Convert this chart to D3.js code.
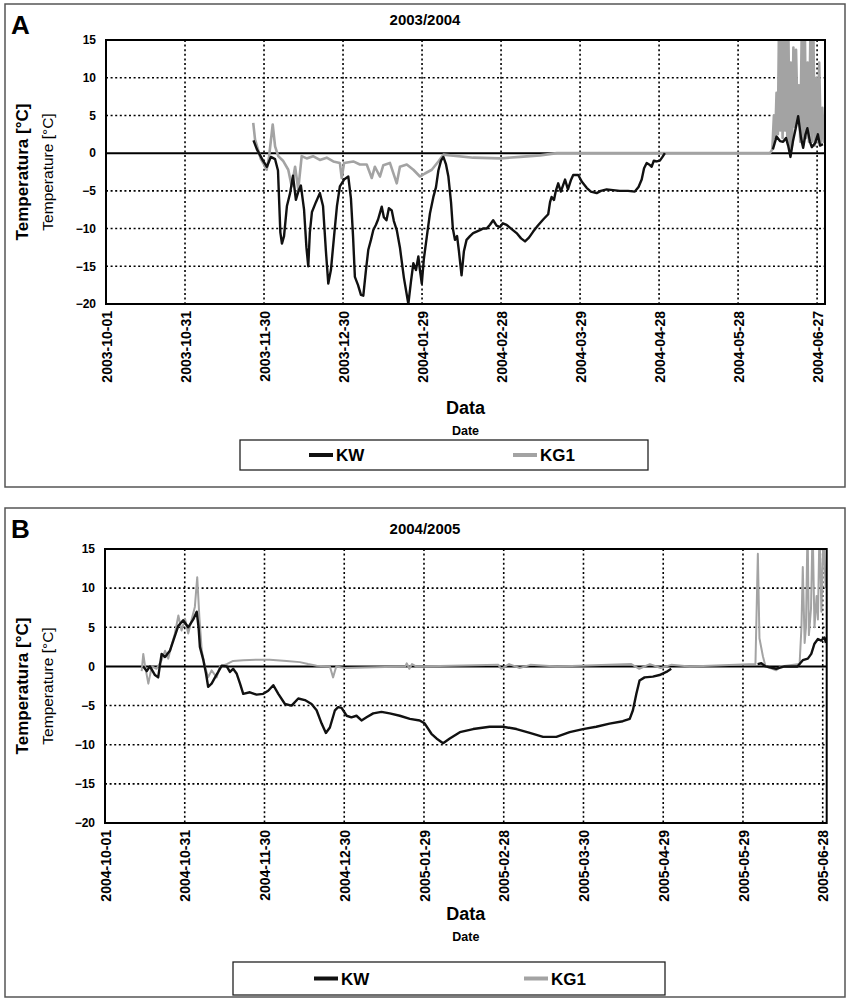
<!DOCTYPE html>
<html><head><meta charset="utf-8">
<script src="https://cdn.jsdelivr.net/npm/d3@7"></script>
<style>body{margin:0;background:#fff}svg{display:block}text{font-family:"Liberation Sans",Arial,sans-serif}</style>
</head><body><svg id="c" width="849" height="999"></svg>
<script>
// ---------- data ----------
const seriesNames = ["KW", "KG1"];
const yTicks = [15, 10, 5, 0, -5, -10, -15, -20];

const titleA = "2003/2004", startA = "2003-10-01", endDayA = 273;
const ticksA = ["2003-10-01","2003-10-31","2003-11-30","2003-12-30","2004-01-29","2004-02-28","2004-03-29","2004-04-28","2004-05-28","2004-06-27"];
// days since season start / temperature (null = gap)
const kwA_day = [56.0,57.3,59.6,61.1,62.6,64.2,65.3,66.2,66.8,67.6,68.7,69.9,71.0,72.1,73.1,74.0,75.2,76.1,76.8,77.4,78.2,79.7,81.2,82.4,83.5,84.4,85.4,86.6,87.7,88.8,90.4,92.0,93.0,93.8,94.5,95.7,96.8,97.7,98.7,99.6,100.6,101.5,102.5,103.3,104.7,105.5,106.5,107.4,108.5,109.3,110.4,111.6,113.1,114.8,115.8,116.7,117.7,118.6,119.2,119.9,120.7,121.8,123.0,124.3,125.3,126.2,127.2,128.1,129.1,130.0,131.0,131.7,132.5,133.3,134.0,135.0,135.9,136.9,138.2,139.4,140.7,142.0,143.1,144.5,145.8,147.0,148.3,149.6,150.7,152.1,153.8,155.9,157.6,159.1,160.6,162.2,164.0,166.0,167.9,168.6,169.2,170.1,170.8,171.7,172.7,174.3,175.4,176.5,177.4,179.3,180.7,182.5,184.1,186.3,187.9,190.1,192.5,195.1,198.2,200.8,202.2,203.4,204.3,205.3,206.2,207.2,208.0,209.1,210.3,211.3,212.2,230,253.2,254.6,255.9,257.1,258.2,259.0,259.9,260.8,262.0,262.8,263.9,264.7,265.6,266.3,267.3,268.0,269.2,270.3,271.1,272.2];
const kwA_val = [1.7,0.5,-1.0,-1.8,-0.5,-0.8,-2.3,-10.5,-12.0,-11.0,-7.0,-5.3,-3.0,-6.2,-5.0,-4.3,-7.5,-12.5,-15.0,-10.5,-7.8,-6.5,-5.3,-7.0,-13.0,-17.3,-15.5,-11.0,-7.0,-4.4,-3.5,-3.1,-6.0,-11.0,-16.4,-17.5,-18.8,-18.9,-15.5,-12.8,-11.5,-10.2,-9.5,-8.8,-7.1,-8.5,-8.9,-7.3,-7.6,-9.0,-10.2,-12.5,-16.5,-20.0,-17.0,-14.6,-15.5,-13.7,-15.5,-17.3,-14.0,-11.1,-8.0,-5.8,-4.5,-2.3,-1.0,-0.5,-1.5,-3.1,-6.5,-10.0,-11.5,-11.0,-13.0,-16.2,-13.0,-11.5,-11.0,-10.6,-10.4,-10.2,-10.0,-10.0,-9.5,-8.9,-9.6,-9.8,-9.3,-9.5,-10.0,-10.6,-11.3,-11.7,-11.2,-10.4,-9.6,-8.8,-8.1,-6.5,-5.8,-6.2,-5.0,-4.0,-5.1,-3.5,-4.8,-3.6,-2.9,-2.9,-3.8,-4.6,-5.1,-5.3,-5.0,-4.8,-4.9,-5.0,-5.0,-5.1,-4.5,-3.5,-2.0,-1.3,-1.5,-1.8,-1.0,-1.1,-1.0,-0.5,0,null,0.5,2.2,1.6,1.5,2.0,1.0,-0.5,1.5,3.5,4.9,2.0,0.7,2.5,3.3,1.5,0.8,1.3,2.5,1.0,1.2];
const kgA_day = [55.9,56.6,57.7,58.8,59.7,61.0,61.9,63.3,64.2,65.4,67.2,69.2,70.5,71.8,73.0,74.3,76.2,78.6,81.2,83.8,86.3,88.8,89.5,90.4,93.9,96.4,99.0,100.9,102.1,104.0,105.3,107.8,110.4,111.6,114.2,116.7,119.2,121.1,123.7,126.2,128.1,139.4,149.6,157.2,164.8,171.2,252.1,253.0,253.6,254.1,254.6,255.1,255.5,256.0,256.4,256.9,257.3,257.8,258.2,258.7,259.1,259.6,260.0,260.5,261.0,261.5,262.0,262.6,263.1,263.6,264.2,264.7,265.3,265.8,266.4,266.9,267.5,268.0,268.6,269.1,269.7,270.3,270.8,271.4,272.0,272.5,273.0];
const kgA_val = [4.0,1.8,0.5,-0.8,-1.3,-2.2,-0.5,3.8,0.9,-0.4,-1.0,-2.2,-4.4,-1.8,-4.8,-0.4,-0.7,-0.4,-0.9,-0.6,-1.1,-1.3,-3.3,-1.3,-1.1,-1.5,-1.5,-3.3,-1.8,-3.1,-1.6,-1.3,-4.0,-1.8,-1.5,-2.2,-3.1,-2.7,-2.2,-1.1,-0.2,-0.6,-0.7,-0.5,-0.3,0,0,0.5,5.0,2.0,8.0,2.5,16,3.0,18,2.0,17,3.0,18,1.5,16,0.5,12,1.0,14,3.5,13.7,4.3,9,1.5,17,1.0,18,2.0,12,1.5,17,1.5,16,1.0,10,1.5,12,1.5,6,1.5,3];

const titleB = "2004/2005", startB = "2004-10-01", endDayB = 271.5;
const ticksB = ["2004-10-01","2004-10-31","2004-11-30","2004-12-30","2005-01-29","2005-02-28","2005-03-30","2005-04-29","2005-05-29","2005-06-28"];
const kwB_day = [14.4,15.7,16.9,18.8,20.0,21.3,22.6,24.4,25.7,27.6,29.4,31.3,33.2,34.5,35.2,35.7,37.0,38.0,38.8,40.1,41.4,42.6,43.9,45.8,47.0,48.2,49.5,50.8,52.0,54.5,57.0,59.5,61.4,63.3,65.2,67.7,70.2,72.7,75.2,77.7,79.6,81.5,83.1,84.6,86.5,87.7,89.0,90.9,92.7,94.6,96.5,98.4,100.9,104.0,107.1,110.9,114.7,118.4,120.3,122.8,124.7,127.2,129.7,133.5,138.5,144.7,149.7,154.8,159.8,164.8,169.8,174.8,179.8,184.8,189.8,194.8,197.4,198.6,199.9,201.1,203.0,206.1,208.6,211.2,213.0,230,245.5,246.9,248.5,252.5,255.6,260.5,262.5,264.4,265.7,266.9,268.2,269.4,270.7,271.2];
const kwB_val = [0,-0.6,0,-1.1,-1.4,1.6,1.2,2.0,3.3,5.2,5.9,5.0,6.0,7.0,5.0,2.5,0.8,-0.9,-2.6,-2.2,-1.4,-0.7,0.1,0,-0.7,-0.3,-0.9,-2.2,-3.5,-3.3,-3.6,-3.5,-3.1,-2.4,-3.5,-4.8,-5.0,-4.1,-4.3,-4.8,-5.6,-7.3,-8.5,-7.8,-5.6,-5.2,-5.3,-6.3,-6.5,-6.3,-6.9,-6.5,-6.0,-5.8,-6.0,-6.3,-6.7,-6.9,-7.3,-8.6,-9.2,-9.8,-9.2,-8.4,-8.0,-7.7,-7.7,-8.0,-8.5,-9.0,-9.0,-8.4,-8.0,-7.7,-7.3,-7.0,-6.7,-5.6,-3.5,-1.8,-1.4,-1.3,-1.1,-0.7,-0.3,null,0.3,0.4,0,-0.3,0,0,0.8,1.0,1.6,2.9,3.5,3.3,3.7,3.0];
const kgB_day = [13.8,14.4,15.0,16.3,17.6,19.4,21.3,22.6,23.8,25.1,26.3,27.6,28.8,30.1,31.3,32.6,33.8,34.7,35.5,36.4,37.6,38.8,40.1,42.0,43.2,45.8,48.2,52.0,57.0,62.0,68.3,73.3,76.4,79.6,84.6,85.8,87.0,90.2,113.0,113.5,114.5,115.5,117.0,148.0,149.0,152.0,156.0,160.0,170.0,198.0,201.0,205.0,209.0,213.0,220.0,244.7,245.6,246.2,247.5,248.5,252.5,254.1,261.3,262.0,262.5,263.2,263.7,264.3,264.8,265.6,266.2,266.9,267.7,268.2,268.8,269.5,270.3,271.1];
const kgB_val = [-0.6,1.6,0.2,-2.2,0,-0.3,0.8,2.0,1.0,2.8,4.2,6.5,4.6,6.1,4.2,6.0,7.6,11.4,6.3,2.0,0,-1.4,-0.5,-1.4,0,0.3,0.7,0.8,0.85,0.85,0.7,0.55,0.3,0.1,0,-1.4,0,-0.2,0,0.4,-0.3,0.3,0,0.2,-0.3,0.3,-0.2,0.2,0,0.3,-0.3,0.3,-0.2,0.2,0,0.3,14.4,3.6,1.3,0,-0.5,0,0.3,5,12.7,3,5,18,4,7.4,18,5,9,6,18,7,17,10];

// ---------- drawing ----------
const svg = d3.select("#c");
const parse = d3.utcParse("%Y-%m-%d");
const fmt = d3.utcFormat("%Y-%m-%d");
const DAY = 864e5;

function panel(o) {
  const g = svg.append("g");
  const t0 = parse(o.start).getTime();
  const toDate = d => new Date(t0 + d * DAY);
  const x = d3.scaleUtc().domain([toDate(0), toDate(o.endDay)]).range([o.L, o.R]);
  const y = d3.scaleLinear().domain([-20, 15]).range([o.B, o.T]);

  g.append("rect").attr("x", o.box[0]).attr("y", o.box[1]).attr("width", o.box[2]).attr("height", o.box[3])
    .attr("fill", "none").attr("stroke", "#555").attr("stroke-width", 1.5);
  g.append("text").attr("x", o.box[0] + 6).attr("y", o.box[1] + 30).attr("font-size", 26).attr("font-weight", "bold").text(o.letter);
  g.append("text").attr("x", 425).attr("y", o.T - 15).attr("text-anchor", "middle")
    .attr("font-size", 15).attr("font-weight", "bold").text(o.title);

  // grid
  g.selectAll(".hg").data(yTicks.filter(v => v !== 0 && v !== 15 && v !== -20)).join("line")
    .attr("x1", o.L).attr("x2", o.R).attr("y1", d => y(d)).attr("y2", d => y(d))
    .attr("stroke", "#000").attr("stroke-width", 1.6).attr("stroke-dasharray", "2,2.6");
  const tickDates = o.ticks.map(parse);
  g.selectAll(".vg").data(tickDates.slice(1)).join("line")
    .attr("x1", d => x(d)).attr("x2", d => x(d)).attr("y1", o.T).attr("y2", o.B)
    .attr("stroke", "#000").attr("stroke-width", 1.6).attr("stroke-dasharray", "2,2.6");
  g.append("line").attr("x1", o.L).attr("x2", o.R).attr("y1", y(0)).attr("y2", y(0))
    .attr("stroke", "#000").attr("stroke-width", 2);

  const cid = "clip" + o.letter;
  svg.append("clipPath").attr("id", cid).append("rect").attr("x", o.L).attr("y", o.T).attr("width", o.R - o.L).attr("height", o.B - o.T);
  const line = d3.line().defined(d => d[1] !== null).x(d => x(toDate(d[0]))).y(d => y(d[1]));
  const kg = o.kgDay.map((d, i) => [d, o.kgVal[i]]);
  const kw = o.kwDay.map((d, i) => [d, o.kwVal[i]]);
  g.append("path").attr("clip-path", `url(#${cid})`).attr("d", line(kg)).attr("fill", "none")
    .attr("stroke", "#a3a3a3").attr("stroke-width", o.kgW).attr("stroke-linejoin", "round");
  g.append("path").attr("clip-path", `url(#${cid})`).attr("d", line(kw)).attr("fill", "none")
    .attr("stroke", "#111").attr("stroke-width", 2.4).attr("stroke-linejoin", "round");

  g.append("rect").attr("x", o.L).attr("y", o.T).attr("width", o.R - o.L).attr("height", o.B - o.T)
    .attr("fill", "none").attr("stroke", "#000").attr("stroke-width", 2);

  // axes
  const ya = g.append("g").attr("transform", `translate(${o.L},0)`)
    .call(d3.axisLeft(y).tickValues(yTicks).tickSize(0).tickPadding(10).tickFormat(d3.format("d")));
  ya.select(".domain").remove();
  ya.selectAll("text").attr("font-size", 12).attr("font-weight", "bold").attr("font-family", "Liberation Sans, Arial, sans-serif");

  const xa = g.append("g").attr("transform", `translate(0,${o.B})`)
    .call(d3.axisBottom(x).tickValues(tickDates).tickSize(0).tickFormat(fmt));
  xa.select(".domain").remove();
  xa.selectAll("text").attr("transform", "rotate(-90)").attr("x", -7).attr("y", 0).attr("dy", "0.36em")
    .style("text-anchor", "end").attr("font-size", 14).attr("font-weight", "bold").attr("font-family", "Liberation Sans, Arial, sans-serif");

  const cx = (o.L + o.R) / 2;
  g.append("text").attr("x", cx).attr("y", o.dataY).attr("text-anchor", "middle").attr("font-size", 18).attr("font-weight", "bold").text("Data");
  g.append("text").attr("x", cx).attr("y", o.dataY + 21).attr("text-anchor", "middle").attr("font-size", 12.5).attr("font-weight", "bold").text("Date");

  const cy = (o.T + o.B) / 2;
  g.append("text").attr("transform", `translate(${o.box[0] + 23},${cy}) rotate(-90)`).attr("text-anchor", "middle")
    .attr("font-size", 17).attr("font-weight", "bold").text("Temperatura  [°C]");
  g.append("text").attr("transform", `translate(${o.box[0] + 48},${cy}) rotate(-90)`).attr("text-anchor", "middle")
    .attr("font-size", 15.5).text("Temperature [°C]");

  // legend
  const lg = o.legend;
  g.append("rect").attr("x", lg[0]).attr("y", lg[1]).attr("width", lg[2]).attr("height", lg[3])
    .attr("fill", "#fff").attr("stroke", "#222").attr("stroke-width", 1.3);
  const ly = lg[1] + lg[3] / 2;
  const items = [{n: seriesNames[0], c: "#111", x: o.legX[0]}, {n: seriesNames[1], c: "#a3a3a3", x: o.legX[1]}];
  items.forEach(it => {
    g.append("line").attr("x1", it.x).attr("x2", it.x + 24).attr("y1", ly).attr("y2", ly).attr("stroke", it.c).attr("stroke-width", 4);
    g.append("text").attr("x", it.x + 27).attr("y", ly + 6).attr("font-size", 17).attr("font-weight", "bold").text(it.n);
  });
}

panel({letter: "A", title: titleA, start: startA, endDay: endDayA, ticks: ticksA,
  L: 106, R: 825, T: 40, B: 304, box: [5, 4, 840, 483], legend: [240, 440, 408, 30], legX: [309, 513], dataY: 414,
  kwDay: kwA_day, kwVal: kwA_val, kgDay: kgA_day, kgVal: kgA_val, kgW: 2.6});
panel({letter: "B", title: titleB, start: startB, endDay: endDayB, ticks: ticksB,
  L: 105, R: 826.7, T: 549, B: 823, box: [5, 508, 840, 489], legend: [233, 962, 432, 33], legX: [314, 524], dataY: 920,
  kwDay: kwB_day, kwVal: kwB_val, kgDay: kgB_day, kgVal: kgB_val, kgW: 2});
</script></body></html>
